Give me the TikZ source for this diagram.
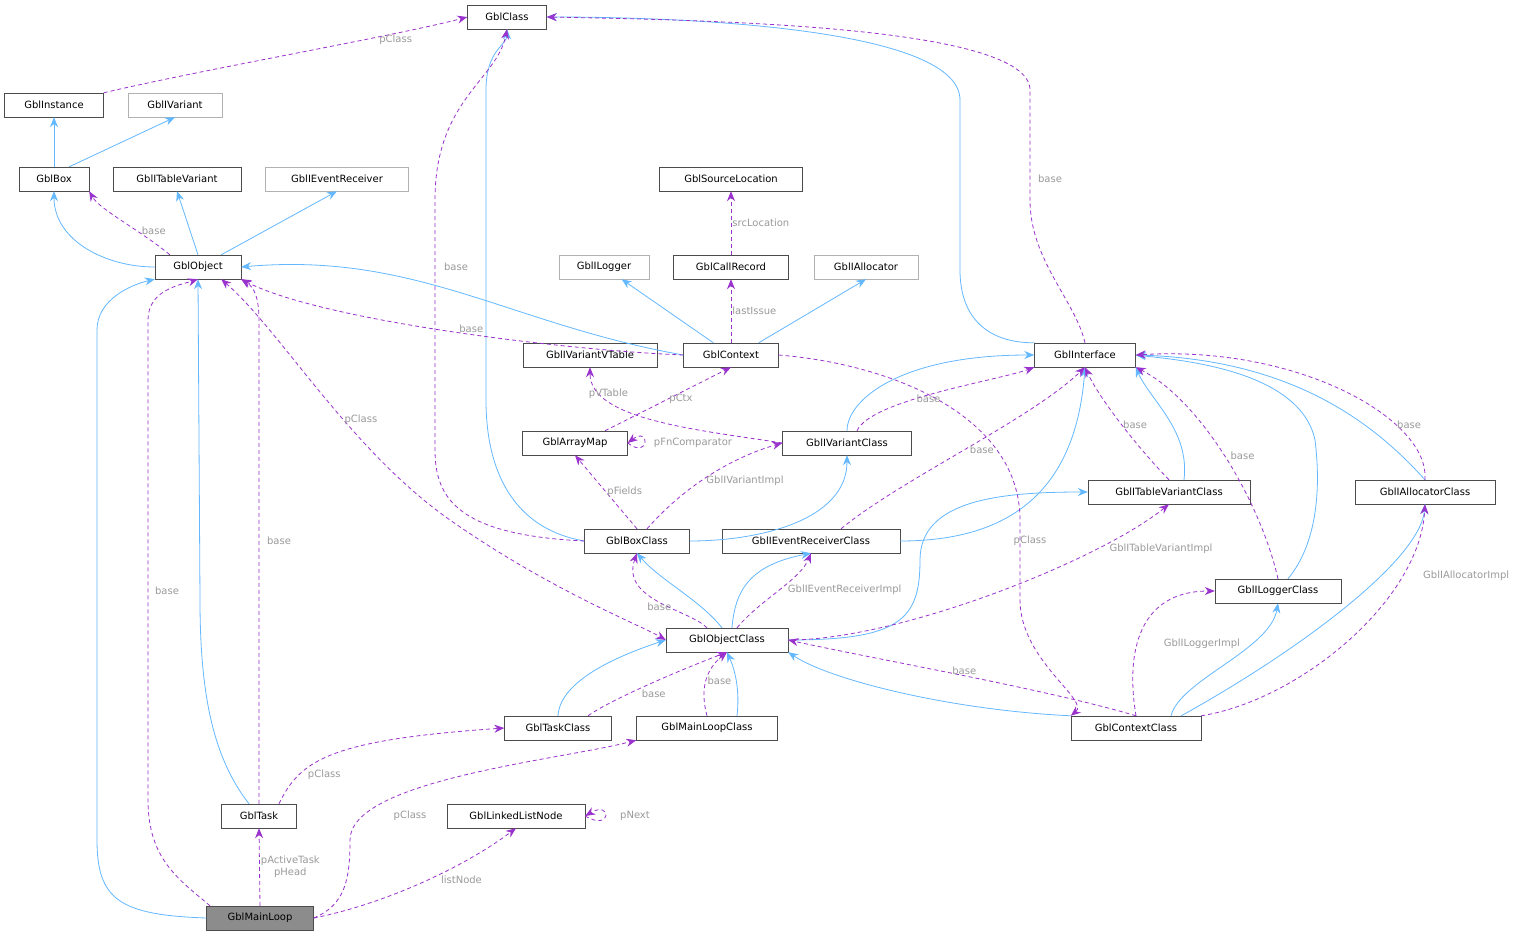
\documentclass[tikz,border=0pt]{standalone}
\usepackage{fontspec}
\setmainfont{DejaVu Sans}
\usetikzlibrary{arrows.meta}
\definecolor{eblue}{HTML}{63B8FF}
\definecolor{epurp}{HTML}{9A32CD}
\definecolor{lgrey}{HTML}{9A9A9A}
\begin{document}
\begin{tikzpicture}[x=1pt,y=-1pt,
 box/.style={draw=black!70,fill=white,minimum height=24pt,inner sep=0pt,font=\fontsize{10}{12}\selectfont},
 gbox/.style={box,draw=black!30},
 inh/.style={draw=eblue,line width=0.8pt,-{Stealth[length=10pt,width=8pt]}},
 use/.style={draw=epurp,line width=0.8pt,dash pattern=on 4pt off 3pt,-{Stealth[length=10pt,width=8pt]}},
 lbl/.style={text=lgrey,font=\fontsize{10}{12}\selectfont,align=center,inner sep=1pt}]
\useasboundingbox (0,0) rectangle (1523,939);
\fill[white] (0,0) rectangle (1523,939);
% nodes
\node[box,minimum width=79] (cls) at (507,17) {GblClass};
\node[box,minimum width=99] (inst) at (54,105) {GblInstance};
\node[gbox,minimum width=94] (ivar) at (175,105) {GblIVariant};
\node[box,minimum width=70] (boxn) at (54,179) {GblBox};
\node[box,minimum width=128] (itv) at (177,179) {GblITableVariant};
\node[gbox,minimum width=143] (ier) at (337,179) {GblIEventReceiver};
\node[box,minimum width=86] (obj) at (198,267) {GblObject};
\node[box,minimum width=143] (srcl) at (731,179) {GblSourceLocation};
\node[gbox,minimum width=90] (ilog) at (604,267) {GblILogger};
\node[box,minimum width=115] (crec) at (731,267) {GblCallRecord};
\node[gbox,minimum width=104] (ialloc) at (866,267) {GblIAllocator};
\node[box,minimum width=134] (ivvt) at (590,355) {GblIVariantVTable};
\node[box,minimum width=95] (ctx) at (731,355) {GblContext};
\node[box,minimum width=101] (iface) at (1085,355) {GblInterface};
\node[box,minimum width=105] (amap) at (575,443) {GblArrayMap};
\node[box,minimum width=129] (ivc) at (847,443) {GblIVariantClass};
\node[box,minimum width=162] (itvc) at (1169,492) {GblITableVariantClass};
\node[box,minimum width=140] (iac) at (1425,492) {GblIAllocatorClass};
\node[box,minimum width=105] (boxc) at (637,541) {GblBoxClass};
\node[box,minimum width=178] (ierc) at (811,541) {GblIEventReceiverClass};
\node[box,minimum width=126] (ilc) at (1278,591) {GblILoggerClass};
\node[box,minimum width=122] (objc) at (727,640) {GblObjectClass};
\node[box,minimum width=107] (taskc) at (558,728) {GblTaskClass};
\node[box,minimum width=141] (mlc) at (707,728) {GblMainLoopClass};
\node[box,minimum width=130] (ctxc) at (1136,728) {GblContextClass};
\node[box,minimum width=75] (task) at (259,816) {GblTask};
\node[box,minimum width=138] (lln) at (516,816) {GblLinkedListNode};
\node[box,fill=black!45,minimum width=107] (ml) at (260,918) {GblMainLoop};
% inheritance
\draw[inh] (boxn) -- (inst);
\draw[inh] (boxn.north east) ++(-20,0) -- (ivar.south);
\draw[inh] (obj) to[out=180,in=-90] (boxn.south);
\draw[inh] (obj.north) -- (itv.south);
\draw[inh] (obj.north east) ++(-20,0) -- (ier.south);
\draw[inh] (ctx.west) to[out=170,in=5] (obj.east);
\draw[inh] (ctx) -- (ilog);
\draw[inh] (ctx.north east) ++(-20,0) -- (ialloc.south);
\draw[inh] (ml.west) .. controls (120,915) and (97,900) .. (97,840) -- (97,330) .. controls (97,300) and (130,285) .. (obj.south west);
\draw[inh] (task.north) ++(-10,0) .. controls (215,760) and (200,700) .. (200,600) -- (obj.south);
\draw[inh] (boxc.west) .. controls (520,530) and (486,480) .. (486,400) -- (486,90) .. controls (486,50) and (507,45) .. (cls.south);
\draw[inh] (boxc.east) .. controls (760,541) and (847,520) .. (ivc.south);
\draw[inh] (iface.north west) .. controls (990,343) and (960,320) .. (960,270) -- (960,100) .. controls (960,30) and (700,17) .. (cls.east);
\draw[inh] (ivc.north) .. controls (847,400) and (900,355) .. (iface.west);
\draw[inh] (ierc.east) .. controls (1000,541) and (1075,500) .. (iface.south);
\draw[inh] (itvc.north) ++(15,0) .. controls (1190,430) and (1150,400) .. (iface.south east);
\draw[inh] (ilc.north) ++(10,0) .. controls (1320,540) and (1320,480) .. (1315,440) .. controls (1300,370) and (1180,360) .. (iface.east);
\draw[inh] (iac.north) .. controls (1380,430) and (1300,360) .. (iface.east);
\draw[inh] (objc.north) ++(-5,0) .. controls (700,600) and (660,580) .. (boxc.south);
\draw[inh] (objc.north) ++(5,0) .. controls (735,590) and (750,565) .. (ierc.south);
\draw[inh] (objc.east) .. controls (900,640) and (920,620) .. (920,560) .. controls (920,500) and (1000,492) .. (itvc.west);
\draw[inh] (taskc.north) .. controls (560,680) and (620,655) .. (objc.west);
\draw[inh] (mlc.north) ++(30,0) .. controls (740,690) and (735,670) .. (objc.south);
\draw[inh] (ctxc.north west) .. controls (950,710) and (830,680) .. (objc.south east);
\draw[inh] (ctxc.north) ++(35,0) .. controls (1180,680) and (1270,650) .. (ilc.south);
\draw[inh] (ctxc.north east) ++(-20,0) .. controls (1300,650) and (1420,560) .. (iac.south);
% usage
\draw[use] (inst.north east) .. controls (200,70) and (400,35) .. node[lbl,pos=0.75,below]{pClass} (cls.west);
\draw[use] (obj.north west) ++(15,0) .. controls (140,230) and (100,210) .. node[lbl,pos=0.35,right=4pt]{base} (boxn.south east);
\draw[use] (crec) -- node[lbl,right]{srcLocation} (srcl);
\draw[use] (ctx) -- node[lbl,right]{lastIssue} (crec);
\draw[use] (ctx.west) .. controls (560,350) and (320,320) .. node[lbl,pos=0.45,above]{base} (obj.south east);
\draw[use] (ctx.east) .. controls (900,365) and (1020,420) .. (1020,520) -- (1020,600) .. controls (1020,660) and (1090,700) .. (ctxc.north west);
\node[lbl] (lpc) at (1030,541) {pClass};
\draw[use] (iface.north) .. controls (1075,300) and (1030,260) .. (1030,200) -- (1030,90) .. controls (1030,25) and (700,20) .. (cls.east);
\node[lbl] (lbase1) at (1050,179) {base};
\draw[use] (amap.north) ++(30,0) -- node[lbl,right]{pCtx} (ctx.south);
\draw[use] (amap.east) .. controls (650,460) and (650,426) .. (amap.east);
\node[lbl] (lfn) at (693,443) {pFnComparator};
\draw[use] (ivc.west) .. controls (700,430) and (590,420) .. node[lbl,pos=0.75,above]{pVTable} (ivvt.south);
\draw[use] (ivc.north) ++(10,0) .. controls (870,400) and (1000,380) .. node[lbl,pos=0.4,right]{base} (iface.south west);
\draw[use] (boxc.north) -- node[lbl,right]{pFields} (amap.south);
\draw[use] (boxc.north) ++(10,0) .. controls (690,480) and (740,455) .. node[lbl,pos=0.4,right=4pt]{GblIVariantImpl} (ivc.west);
\draw[use] (boxc.west) .. controls (460,535) and (435,500) .. (435,450) -- (435,200) .. controls (435,100) and (497,80) .. (cls.south);
\node[lbl] (lbase2) at (456,267) {base};
\draw[use] (ierc.north) ++(30,0) .. controls (900,480) and (1030,420) .. node[lbl,pos=0.5,right=4pt]{base} (iface.south);
\draw[use] (itvc.north) .. controls (1140,450) and (1100,400) .. node[lbl,pos=0.5,right]{base} (iface.south);
\draw[use] (ilc.north) .. controls (1260,500) and (1200,400) .. node[lbl,pos=0.5,right=5pt]{base} (iface.south east);
\draw[use] (iac.north) .. controls (1430,420) and (1300,345) .. node[lbl,pos=0.3,right]{base} (iface.east);
\draw[use] (objc.north) ++(-20,0) .. controls (690,610) and (620,600) .. node[lbl,pos=0.5,below]{base} (boxc.south);
\draw[use,{Stealth[length=10pt,width=8pt]}-{Stealth[length=10pt,width=8pt]}] (obj.south east) ++(-20,0) .. controls (280,330) and (350,450) .. node[lbl,pos=0.6,right]{pClass} (450,520) .. controls (550,590) and (640,625) .. (objc.west);
\draw[use] (objc.north) ++(10,0) .. controls (760,600) and (800,580) .. node[lbl,pos=0.5,right=8pt]{GblIEventReceiverImpl} (ierc.south);
\draw[use] (objc.east) .. controls (900,640) and (1100,560) .. node[lbl,pos=0.75,right=12pt]{GblITableVariantImpl} (itvc.south);
\draw[use] (taskc.north) ++(30,0) .. controls (610,700) and (680,670) .. node[lbl,pos=0.45,below right]{base} (objc.south);
\draw[use] (mlc.north) .. controls (700,690) and (705,670) .. node[lbl,pos=0.5,right]{base} (objc.south);
\draw[use] (ctxc.north) .. controls (1050,690) and (880,660) .. node[lbl,pos=0.5,above]{base} (objc.east);
\draw[use] (ctxc.north) .. controls (1125,650) and (1140,591) .. node[lbl,pos=0.4,right=25pt]{GblILoggerImpl} (ilc.west);
\draw[use] (ctxc.north east) .. controls (1300,700) and (1420,600) .. node[lbl,pos=0.75,right=20pt]{GblIAllocatorImpl} (iac.south);
\draw[use] (task.north) -- (259,320) .. controls (259,290) and (250,285) .. (obj.south east);
\node[lbl] (lbase4) at (279,541) {base};
\draw[use] (task.north) ++(20,0) .. controls (300,760) and (330,740) .. node[lbl,pos=0.25,right=8pt]{pClass} (taskc.west);
\draw[use] (ml.north) ++(-50,0) .. controls (180,880) and (148,860) .. (148,800) -- (148,320) .. controls (148,290) and (180,285) .. (obj.south);
\node[lbl] (lbase3) at (167,591) {base};
\draw[use] (ml.north) -- node[lbl,right]{pActiveTask\\pHead} (task.south);
\draw[use] (ml.east) .. controls (345,905) and (350,880) .. (350,840) .. controls (350,780) and (560,760) .. (mlc.south west);
\node[lbl] (lpc2) at (410,816) {pClass};
\draw[use] (ml.east) .. controls (380,905) and (460,870) .. node[lbl,pos=0.6,below right]{listNode} (lln.south);
\draw[use] (lln.east) .. controls (612,832) and (612,800) .. (lln.east);
\node[lbl] (lpn) at (635,816) {pNext};
\end{tikzpicture}
\end{document}
